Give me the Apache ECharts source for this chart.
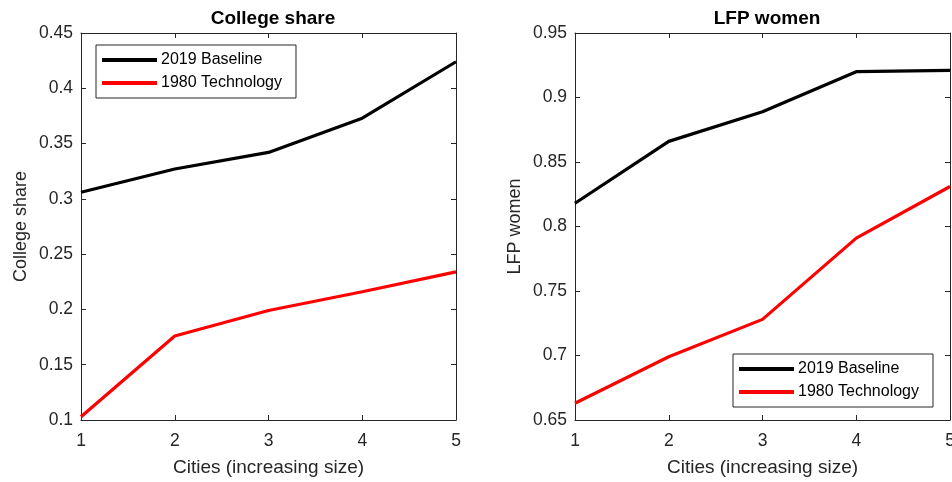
<!DOCTYPE html>
<html>
<head>
<meta charset="utf-8">
<script src="https://cdn.jsdelivr.net/npm/echarts@6/dist/echarts.min.js"></script>
<style>
  html, body { margin: 0; padding: 0; background: #fff; }
  #chart { width: 952px; height: 482px; }
</style>
</head>
<body>
<div id="chart"></div>
<script>
// City size groups (1 = smallest, 5 = largest)
const cities = [1, 2, 3, 4, 5];
const seriesNames = ['2019 Baseline', '1980 Technology'];

// College share by city size
const collegeBaseline = [0.306, 0.327, 0.342, 0.373, 0.424];
const collegeTech1980 = [0.103, 0.176, 0.199, 0.216, 0.234];

// Female labor-force participation by city size
const lfpBaseline = [0.818, 0.866, 0.889, 0.920, 0.921];
const lfpTech1980 = [0.663, 0.699, 0.728, 0.791, 0.831];

const panelTitles = ['College share', 'LFP women'];
const xAxisTitle = 'Cities (increasing size)';

const axisColor = '#262626';
const font = 'Liberation Sans, Arial, Helvetica, sans-serif';

const pair = (ys) => cities.map((c, i) => [c, ys[i]]);

function xAxes(gridIndex) {
  const common = {
    type: 'value', gridIndex, min: 1, max: 5, interval: 1,
    axisLine: { show: true, lineStyle: { color: axisColor, width: 1 } },
    axisTick: { show: true, inside: true, length: 5, lineStyle: { color: axisColor } },
    splitLine: { show: false }
  };
  return [
    Object.assign({}, common, {
      position: 'bottom',
      name: xAxisTitle, nameLocation: 'middle', nameGap: 38,
      nameTextStyle: { color: axisColor, fontSize: 19, fontFamily: font },
      axisLabel: { color: axisColor, fontSize: 17.5, fontFamily: font, margin: 12 }
    }),
    Object.assign({}, common, { position: 'top', axisLabel: { show: false } })
  ];
}

function yAxes(gridIndex, min, max, title) {
  const common = {
    type: 'value', gridIndex, min, max, interval: 0.05,
    axisLine: { show: true, lineStyle: { color: axisColor, width: 1 } },
    axisTick: { show: true, inside: true, length: 5, lineStyle: { color: axisColor } },
    splitLine: { show: false }
  };
  return [
    Object.assign({}, common, {
      position: 'left',
      name: title, nameLocation: 'middle', nameGap: 51,
      nameTextStyle: { color: axisColor, fontSize: 18, fontFamily: font },
      axisLabel: {
        color: axisColor, fontSize: 17.5, fontFamily: font, margin: 8,
        formatter: (v) => String(parseFloat(v.toFixed(2)))
      }
    }),
    Object.assign({}, common, { position: 'right', axisLabel: { show: false } })
  ];
}

function line(name, data, xi, yi, color) {
  return {
    type: 'line', name, data, xAxisIndex: xi, yAxisIndex: yi,
    symbol: 'none', showSymbol: false, smooth: false,
    lineStyle: { color, width: 3.2 }, itemStyle: { color },
    animation: false, z: 3
  };
}

function legend(left, top) {
  return {
    data: seriesNames,
    left, top, orient: 'vertical',
    backgroundColor: '#fff',
    borderColor: axisColor, borderWidth: 1, borderRadius: 0,
    padding: [7, 14, 7, 6],
    itemGap: 7, itemWidth: 55, itemHeight: 4,
    icon: 'rect',
    textStyle: { color: '#000', fontSize: 16, fontFamily: font, padding: [0, 0, 0, -1] },
    selectedMode: false
  };
}

const chart = echarts.init(document.getElementById('chart'), null, { renderer: 'canvas' });
chart.setOption({
  backgroundColor: '#fff',
  animation: false,
  title: [
    { text: panelTitles[0], left: 268, top: 4, textAlign: 'center',
      textStyle: { fontSize: 19, fontWeight: 'bold', color: '#000', fontFamily: font } },
    { text: panelTitles[1], left: 762, top: 4, textAlign: 'center',
      textStyle: { fontSize: 19, fontWeight: 'bold', color: '#000', fontFamily: font } }
  ],
  grid: [
    { left: 81, top: 33, width: 375, height: 387, outerBoundsMode: 'none', containLabel: false },
    { left: 575, top: 33, width: 375, height: 387, outerBoundsMode: 'none', containLabel: false }
  ],
  xAxis: [...xAxes(0), ...xAxes(1)],
  yAxis: [...yAxes(0, 0.1, 0.45, panelTitles[0]), ...yAxes(1, 0.65, 0.95, panelTitles[1])],
  legend: [legend(96, 45), legend(733, 354)],
  series: [
    line(seriesNames[0], pair(collegeBaseline), 0, 0, '#000000'),
    line(seriesNames[1], pair(collegeTech1980), 0, 0, '#ff0000'),
    line(seriesNames[0], pair(lfpBaseline), 2, 2, '#000000'),
    line(seriesNames[1], pair(lfpTech1980), 2, 2, '#ff0000')
  ]
});
</script>
</body>
</html>
